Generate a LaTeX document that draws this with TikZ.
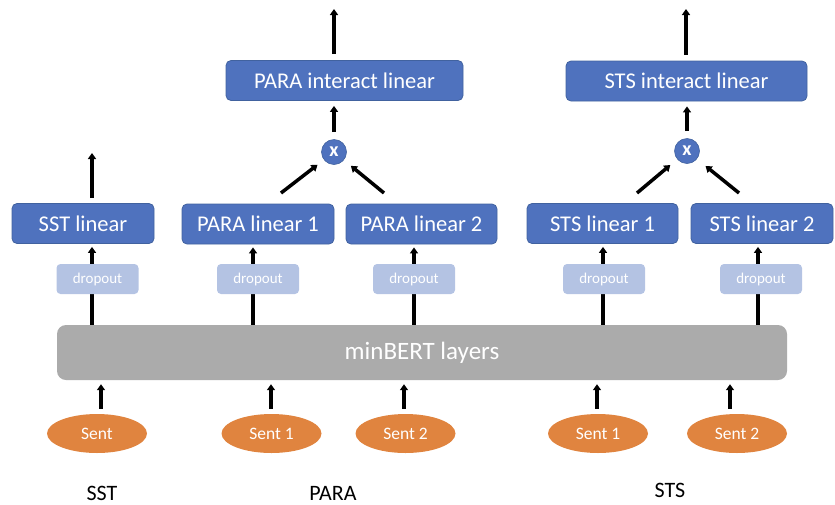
\documentclass[tikz,border=0pt]{standalone}
\usepackage{fontspec}
\setmainfont{Carlito}
\usetikzlibrary{arrows.meta,shapes.geometric}
\definecolor{boxblue}{HTML}{4F72BE}
\definecolor{boxedge}{HTML}{41629F}
\definecolor{dropc}{HTML}{B4C3E3}
\definecolor{bertgray}{HTML}{ABABAB}
\definecolor{sentor}{HTML}{E0843F}
\begin{document}
\begin{tikzpicture}[x=1pt,y=-1pt,
  lin/.style={draw=boxedge, line width=0.8pt, fill=boxblue, rounded corners=5pt, text=white,
    font=\fontsize{22.5}{26}\selectfont, minimum height=40pt, inner sep=0pt},
  drop/.style={fill=dropc, rounded corners=4pt, text=white, font=\fontsize{15}{18}\selectfont,
    minimum width=82pt, minimum height=30pt, inner sep=0pt},
  sent/.style={ellipse, fill=sentor, text=white, font=\fontsize{17.5}{20}\selectfont,
    minimum width=100pt, minimum height=39pt, inner sep=0pt},
  mul/.style={circle, fill=boxblue, draw=boxedge, line width=0.6pt, text=white, minimum size=25pt,
    inner sep=0pt, font=\bfseries\fontsize{20}{22}\selectfont},
  lab/.style={font=\fontsize{22}{26}\selectfont, text=black, inner sep=0pt},
  arr/.style={line width=3.5pt, -{Triangle[length=6pt,width=8pt]}}
]
\useasboundingbox (0,0) rectangle (835,504);
% backbone
\node[fill=bertgray, rounded corners=9pt, minimum width=730pt, minimum height=55pt, inner sep=0pt,
  text=white, font=\fontsize{25}{28}\selectfont] (bert) at (422,352.5) {minBERT layers};
% linear boxes
\node[lin, minimum width=142pt] (sst) at (83,223.5) {SST linear};
\node[lin, minimum width=152pt] (para1) at (258,224) {PARA linear 1};
\node[lin, minimum width=151pt] (para2) at (421.5,224) {PARA linear 2};
\node[lin, minimum width=151pt] (sts1) at (602.5,223.5) {STS linear 1};
\node[lin, minimum width=142pt] (sts2) at (762,223.5) {STS linear 2};
\node[lin, minimum width=237pt] (parai) at (344.5,80.5) {PARA interact linear};
\node[lin, minimum width=241pt] (stsi) at (686.5,81) {STS interact linear};
% multiply nodes
\node[mul] (mulp) at (334,152) {x};
\node[mul] (muls) at (687,151) {x};
% arrow x positions
\coordinate (xa) at (92,0);
\coordinate (xb) at (253,0);
\coordinate (xc) at (414,0);
\coordinate (xd) at (603,0);
\coordinate (xe) at (758,0);
% arrows from backbone to linear boxes (drawn under dropout)
\draw[arr, shorten >=3pt] (bert.north -| xa) -- (sst.south -| xa);
\draw[arr, shorten >=3pt] (bert.north -| xb) -- (para1.south -| xb);
\draw[arr, shorten >=3pt] (bert.north -| xc) -- (para2.south -| xc);
\draw[arr, shorten >=3pt] (bert.north -| xd) -- (sts1.south -| xd);
\draw[arr, shorten >=3pt] (bert.north -| xe) -- (sts2.south -| xe);
% dropout boxes
\node[drop] (d1) at (97.5,279) {dropout};
\node[drop] (d2) at (258,279) {dropout};
\node[drop] (d3) at (414,279) {dropout};
\node[drop] (d4) at (604,279) {dropout};
\node[drop] (d5) at (761,279) {dropout};
% sentences
\node[sent] (s1) at (97,433.5) {Sent};
\node[sent] (s2) at (271.5,433.5) {Sent 1};
\node[sent] (s3) at (405.5,433.5) {Sent 2};
\node[sent] (s4) at (598,433.5) {Sent 1};
\node[sent] (s5) at (737,433.5) {Sent 2};
\coordinate (ya) at (101,0);
\coordinate (yb) at (271,0);
\coordinate (yc) at (404,0);
\coordinate (yd) at (597,0);
\coordinate (ye) at (730,0);
\draw[arr, shorten <=5pt, shorten >=4pt] (s1.north -| ya) -- (bert.south -| ya);
\draw[arr, shorten <=5pt, shorten >=4pt] (s2.north -| yb) -- (bert.south -| yb);
\draw[arr, shorten <=5pt, shorten >=4pt] (s3.north -| yc) -- (bert.south -| yc);
\draw[arr, shorten <=5pt, shorten >=4pt] (s4.north -| yd) -- (bert.south -| yd);
\draw[arr, shorten <=5pt, shorten >=4pt] (s5.north -| ye) -- (bert.south -| ye);
% outputs
\coordinate (sstout) at (92,153);
\coordinate (paraout) at (334,9);
\coordinate (stsout) at (686,9);
\draw[arr, shorten <=5pt] (sst.north -| sstout) -- (sstout);
\draw[arr, shorten <=6pt] (parai.north -| paraout) -- (paraout);
\draw[arr, shorten <=6pt] (stsi.north -| stsout) -- (stsout);
% multiply to interact
\draw[arr, shorten <=7pt, shorten >=5pt] (mulp.north) -- (parai.south -| mulp);
\draw[arr, shorten <=7pt, shorten >=5pt] (muls.north) -- (stsi.south -| muls);
% diagonals into multiply
\coordinate (p1t) at (281,193);
\coordinate (p2t) at (384,193);
\coordinate (s1t) at (637,193);
\coordinate (s2t) at (739,193);
\draw[arr, shorten >=8pt] (p1t) -- (mulp);
\draw[arr, shorten >=9pt] (p2t) -- (mulp);
\draw[arr, shorten >=9pt] (s1t) -- (muls);
\draw[arr, shorten >=11pt] (s2t) -- (muls);
% task labels
\node[lab, anchor=base] (lsst) at (102,500) {SST};
\node[lab, anchor=base] (lpara) at (333,500) {PARA};
\node[lab, anchor=base] (lsts) at (670,497) {STS};
\end{tikzpicture}
\end{document}
